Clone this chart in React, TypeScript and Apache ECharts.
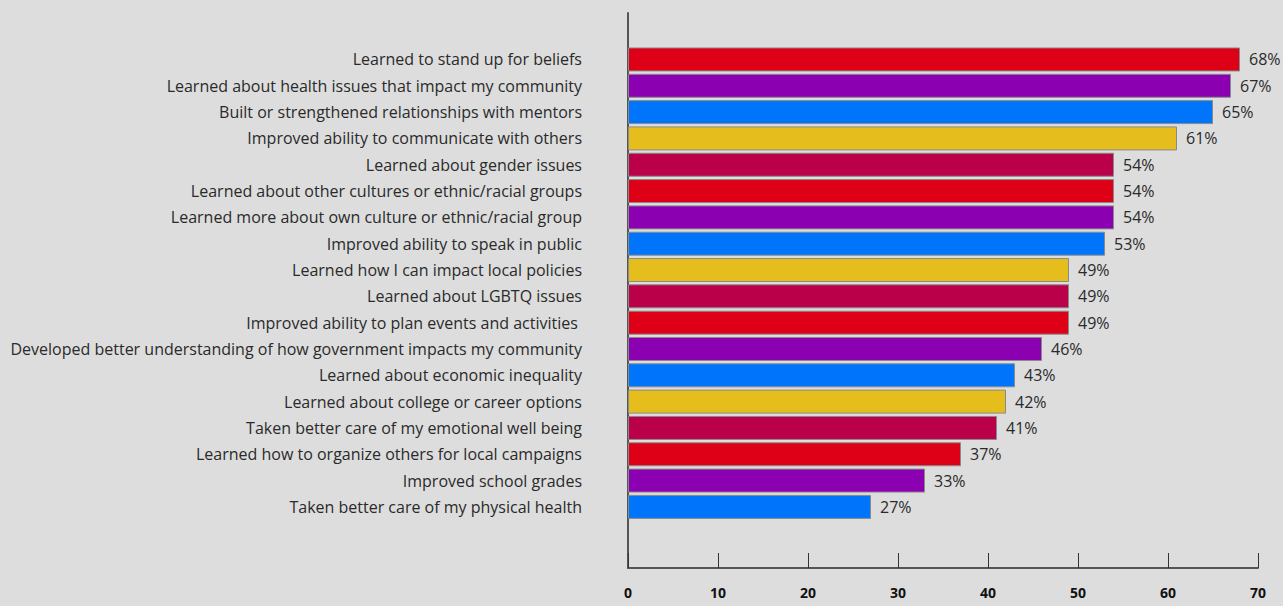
import React, { useEffect, useRef } from "react";
import * as echarts from "echarts";

const categories: string[] = [
  "Learned to stand up for beliefs",
  "Learned about health issues that impact my community",
  "Built or strengthened relationships with mentors",
  "Improved ability to communicate with others",
  "Learned about gender issues",
  "Learned about other cultures or ethnic/racial groups",
  "Learned more about own culture or ethnic/racial group",
  "Improved ability to speak in public",
  "Learned how I can impact local policies",
  "Learned about LGBTQ issues",
  "Improved ability to plan events and activities ",
  "Developed better understanding of how government impacts my community",
  "Learned about economic inequality",
  "Learned about college or career options",
  "Taken better care of my emotional well being",
  "Learned how to organize others for local campaigns",
  "Improved school grades",
  "Taken better care of my physical health",
];

const values: number[] = [68, 67, 65, 61, 54, 54, 54, 53, 49, 49, 49, 46, 43, 42, 41, 37, 33, 27];

const palette: string[] = ["#dd0016", "#8b00b1", "#0075fb", "#e5bd1d", "#ba0049"];

const xTicks: number[] = [0, 10, 20, 30, 40, 50, 60, 70];

export default function App() {
  const ref = useRef<HTMLDivElement>(null);
  useEffect(() => {
    if (!ref.current) return;
    const chart = echarts.init(ref.current, null, { renderer: "svg" });
    const font = "Open Sans";
    const pitch = 26.32;
    const barTop = 46.3;
    chart.setOption({
      animation: false,
      backgroundColor: "#dddddd",
      grid: [
        { left: 628, right: 25, top: barTop, height: pitch * categories.length, containLabel: false },
        { left: 628, right: 25, top: 13, bottom: 606 - 568, containLabel: false },
      ],
      xAxis: [
        { gridIndex: 0, type: "value", min: 0, max: 70, show: false },
        {
          gridIndex: 1,
          type: "value",
          min: xTicks[0],
          max: xTicks[xTicks.length - 1],
          interval: 10,
          axisLine: { show: true, lineStyle: { color: "#555", width: 2 } },
          axisTick: { show: true, inside: true, length: 15, lineStyle: { color: "#333", width: 1 } },
          axisLabel: { show: true, margin: 17, color: "#111", fontWeight: "bold", fontSize: 14, fontFamily: font },
          splitLine: { show: false },
        },
      ],
      yAxis: [
        {
          gridIndex: 0,
          type: "category",
          inverse: true,
          data: categories,
          axisLine: { show: false },
          axisTick: { show: false },
          axisLabel: { margin: 46, color: "#2a2a2a", fontSize: 16, fontFamily: font },
        },
        {
          gridIndex: 1,
          type: "value",
          min: 0,
          max: 1,
          axisLine: { show: true, lineStyle: { color: "#555", width: 2 } },
          axisTick: { show: false },
          axisLabel: { show: false },
          splitLine: { show: false },
        },
      ],
      series: [
        {
          type: "bar",
          xAxisIndex: 0,
          yAxisIndex: 0,
          data: values.map((v, i) => ({
            value: v,
            itemStyle: { color: palette[i % palette.length] },
          })),
          barWidth: 24,
          itemStyle: { borderColor: "#8a8a8a", borderWidth: 1 },
          label: {
            show: true,
            position: "right",
            distance: 9,
            formatter: "{c}%",
            color: "#2a2a2a",
            fontSize: 16,
            fontFamily: font,
          },
        },
      ],
    });
    return () => chart.dispose();
  }, []);
  return (
    <div
      ref={ref}
      style={{ position: "fixed", left: 0, top: 0, width: 1283, height: 606 }}
    />
  );
}
